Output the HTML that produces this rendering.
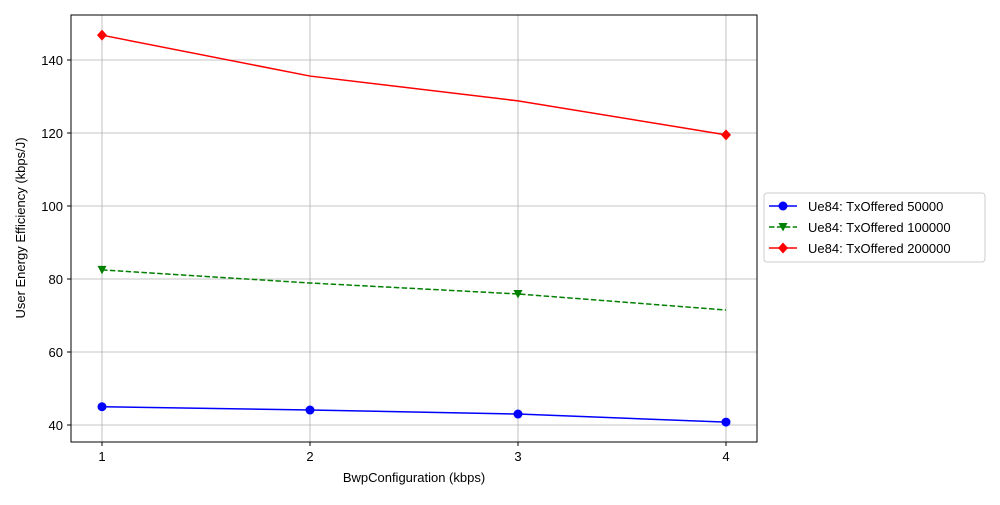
<!DOCTYPE html>
<html><head><meta charset="utf-8"><style>
body{margin:0;background:#fff;}
svg{font-family:"Liberation Sans","DejaVu Sans",sans-serif;}
</style></head><body>
<svg id="chart" width="1000" height="500"></svg>
<script>
const categories=[1,2,3,4];
const seriesBlue=[45.0,44.1,43.0,40.8];
const seriesGreen=[82.5,78.9,75.9,71.5];
const seriesRed=[146.8,135.6,128.8,119.5];
const yTicks=[40,60,80,100,120,140];
const xTicks=[1,2,3,4];
const legendLabels=["Ue84: TxOffered 50000","Ue84: TxOffered 100000","Ue84: TxOffered 200000"];
const NS="http://www.w3.org/2000/svg";
const svg=document.getElementById('chart');
const L=71,R=757,T=15,B=442;
const xs=v=>102+(v-1)*208;
const ys=v=>425-(v-40)*3.65;
function mk(tag,attrs,parent){const e=document.createElementNS(NS,tag);for(const k in attrs)e.setAttribute(k,attrs[k]);(parent||svg).appendChild(e);return e;}
// grid
xTicks.forEach(t=>{const g=mk('line',{x1:xs(t),x2:xs(t),y1:T,y2:B,stroke:'#b0b0b0','stroke-width':0.8});


const tk=mk('line',{x1:xs(t),x2:xs(t),y1:B,y2:B+4,stroke:'#000'});


const tx=mk('text',{x:xs(t),y:B+19,'text-anchor':'middle','font-size':13});tx.textContent=t;

});
yTicks.forEach(t=>{const g=mk('line',{x1:L,x2:R,y1:ys(t),y2:ys(t),stroke:'#b0b0b0','stroke-width':0.8});


const tk=mk('line',{x1:L-4,x2:L,y1:ys(t),y2:ys(t),stroke:'#000'});


const tx=mk('text',{x:L-8,y:ys(t)+5,'text-anchor':'end','font-size':13});tx.textContent=t;

});
const frame=mk('rect',{x:L,y:T,width:R-L,height:B-T,fill:'none',stroke:'#000','stroke-width':1});


function marker(type,x,y,color,parent){
 let e;
 if(type==='o')e=mk('circle',{cx:x,cy:y,r:4.5,fill:color},parent);
 else if(type==='v')e=mk('polygon',{points:`${x-4.5},${y-4} ${x+4.5},${y-4} ${x},${y+4.5}`,fill:color},parent);
 else e=mk('polygon',{points:`${x},${y-5.5} ${x+5},${y} ${x},${y+5.5} ${x-5},${y}`,fill:color},parent);
 
 
}
function series(vals,color,dash,type,markIdx,name){
 const g=mk('g',{});
 
 
 const p=mk('polyline',{points:vals.map((v,i)=>xs(categories[i])+','+ys(v)).join(' '),fill:'none',stroke:color,'stroke-width':1.5,'stroke-dasharray':dash||''},g);
 
 
 vals.forEach((v,i)=>{if(markIdx.includes(i))marker(type,xs(categories[i]),ys(v),color,g);});
}
series(seriesBlue,'#0000ff','','o',[0,1,2,3],'series-50000');
series(seriesGreen,'#008000','5.5,2.4','v',[0,2],'series-100000');
series(seriesRed,'#ff0000','','d',[0,3],'series-200000');
const xl=mk('text',{x:414,y:482,'text-anchor':'middle','font-size':13});xl.textContent='BwpConfiguration (kbps)';


const yl=mk('text',{x:0,y:0,'text-anchor':'middle','font-size':13,transform:'translate(25,228) rotate(-90)'});yl.textContent='User Energy Efficiency (kbps/J)';


// legend
const lg=mk('g',{});


mk('rect',{x:764,y:193,width:221,height:69,rx:3,fill:'#fff',stroke:'#ccc'},lg);
const lc=['#0000ff','#008000','#ff0000'],ld=['','5.5,2.4',''],lt=['o','v','d'];
legendLabels.forEach((s,i)=>{const y=206+i*21;
 const e=mk('g',{},lg);
 
 
 mk('line',{x1:769,x2:797,y1:y,y2:y,stroke:lc[i],'stroke-width':1.5,'stroke-dasharray':ld[i]},e);
 marker(lt[i],783,y,lc[i],e);
 const t=mk('text',{x:808,y:y+5,'font-size':13},e);t.textContent=s;});
</script>
</body></html>
